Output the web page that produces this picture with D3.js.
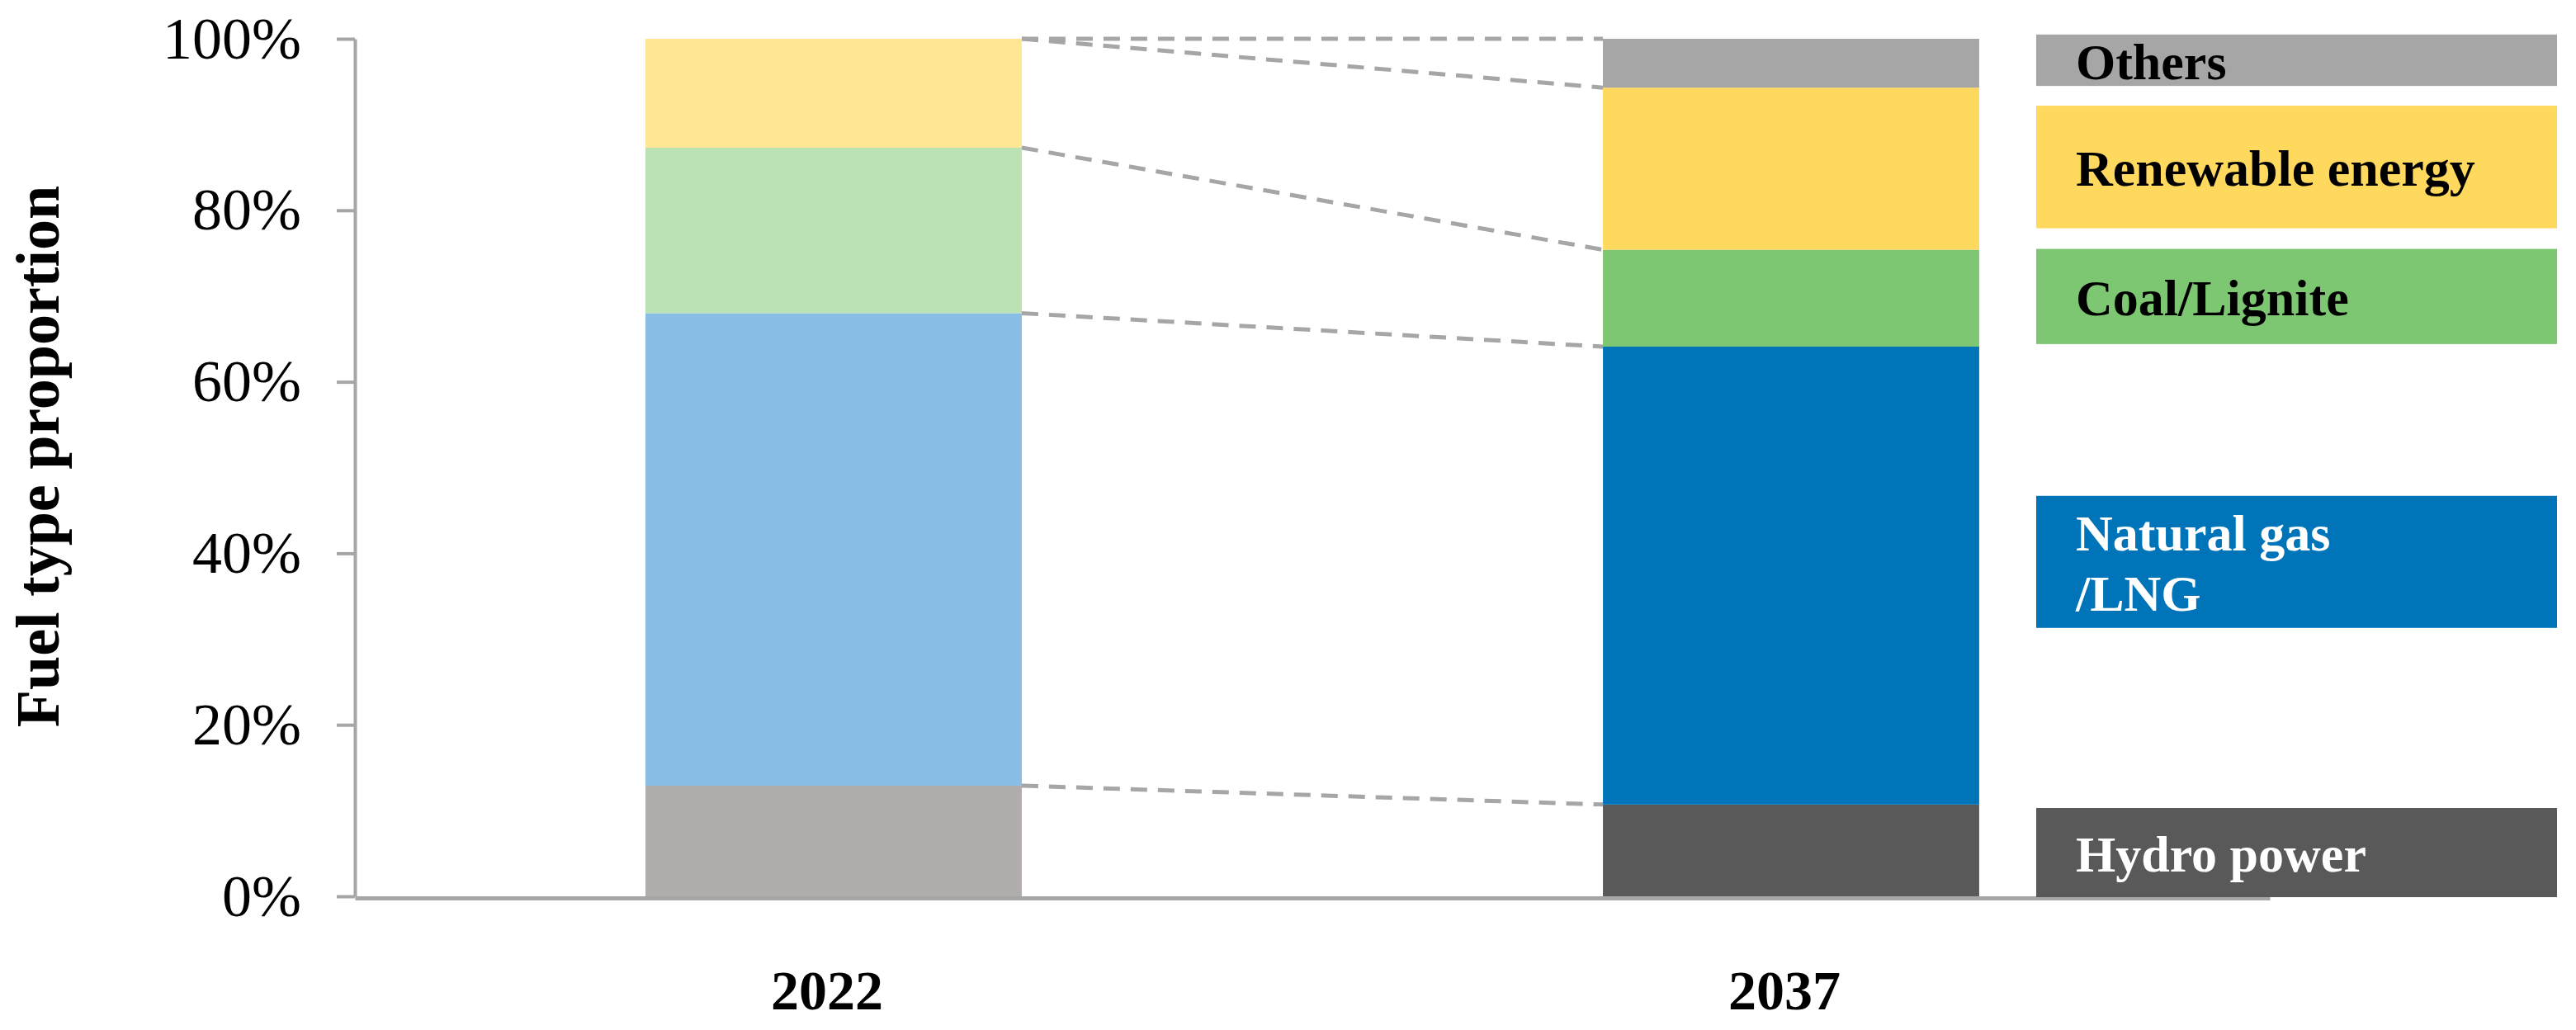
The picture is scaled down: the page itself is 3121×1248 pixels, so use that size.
<!DOCTYPE html>
<html>
<head>
<meta charset="utf-8">
<script src="https://cdn.jsdelivr.net/npm/d3@7"></script>
<style>
    html, body { margin: 0; padding: 0; background: #fff; }
    text { font-family: "Liberation Serif", "Times New Roman", serif; }
</style>
</head>
<body>
<div id="chart"></div>
<script>
// data (percent of total)
var years = ["2022", "2037"];
var fuels = ["Hydro power", "Natural gas /LNG", "Coal/Lignite", "Renewable energy", "Others"];
var hydro = [12.9, 10.7];
var gas = [55.1, 53.4];
var coal = [19.3, 11.3];
var renewable = [12.7, 18.9];
var others = [0, 5.7];
var yTicks = [0, 20, 40, 60, 80, 100];

// colours per year (2022 is the pale version)
var colors2022 = ["#b0adac", "#88bde6", "#bbe2b3", "#fee695", "#d9d9d9"];
var colors2037 = ["#595959", "#0074b9", "#7ec772", "#ffd95e", "#a6a6a6"];

// legend boxes on the right, spans given in percent of the axis
var legendSpans = [[-0.1, 10.3], [31.3, 46.7], [64.4, 75.5], [77.9, 92.2], [94.5, 100.5]];
var legendLines = [["Hydro power"], ["Natural gas", "/LNG"], ["Coal/Lignite"], ["Renewable energy"], ["Others"]];
var legendText = ["#fff", "#fff", "#000", "#000", "#000"];

function init() {
    var W = 3121, H = 1248;
    var left = 430, right = 2750, top = 47, bottom = 1086;

    var svg = d3.select("#chart")
        .append("svg")
        .attr("width", W)
        .attr("height", H);

    var rows = years.map(function(y, i) {
        return {
            year: y,
            "Hydro power": hydro[i],
            "Natural gas /LNG": gas[i],
            "Coal/Lignite": coal[i],
            "Renewable energy": renewable[i],
            "Others": others[i]
        };
    });

    var series = d3.stack().keys(fuels)(rows);

    var x = d3.scaleBand()
        .domain(years)
        .range([left, right])
        .paddingInner(0.607)
        .paddingOuter(0.3035);

    var y = d3.scaleLinear()
        .domain([0, 100])
        .range([bottom, top]);

    // y axis
    var yAxis = svg.append("g")
        .attr("transform", "translate(" + left + ",0)")
        .call(d3.axisLeft(y)
            .tickValues(yTicks)
            .tickFormat(function(d) { return d + "%"; })
            .tickSize(22)
            .tickSizeOuter(0)
            .tickPadding(43));
    yAxis.select(".domain").attr("stroke", "#a6a6a6").attr("stroke-width", 4);
    yAxis.selectAll(".tick line").attr("stroke", "#a6a6a6").attr("stroke-width", 4);
    yAxis.selectAll(".tick text")
        .attr("fill", "#000")
        .style("font-size", "72px");

    // x axis
    var xAxis = svg.append("g")
        .attr("transform", "translate(0," + (bottom + 2) + ")")
        .call(d3.axisBottom(x).tickSize(0).tickSizeOuter(0).tickPadding(87));
    xAxis.select(".domain").attr("stroke", "#a6a6a6").attr("stroke-width", 5);
    xAxis.selectAll(".tick text")
        .attr("fill", "#000")
        .attr("dx", -8)
        .style("font-size", "68px")
        .style("font-weight", "bold");

    // axis title
    svg.append("text")
        .attr("transform", "translate(71," + 553 + ") rotate(-90)")
        .attr("text-anchor", "middle")
        .style("font-size", "74px")
        .style("font-weight", "bold")
        .text("Fuel type proportion");

    // dashed connectors between the bars
    svg.append("g")
        .selectAll("line")
        .data(series)
        .enter()
        .append("line")
        .attr("x1", x("2022") + x.bandwidth())
        .attr("x2", x("2037"))
        .attr("y1", function(d) { return y(d[0][1]); })
        .attr("y2", function(d) { return y(d[1][1]); })
        .attr("stroke", "#a6a6a6")
        .attr("stroke-width", 5)
        .attr("stroke-dasharray", "20,13");

    // bars
    svg.append("g")
        .selectAll("g")
        .data(series)
        .enter()
        .append("g")
        .selectAll("rect")
        .data(function(d, k) {
            return d.map(function(p, i) { return {p: p, k: k, i: i}; });
        })
        .enter()
        .append("rect")
        .attr("x", function(d) { return x(d.p.data.year); })
        .attr("y", function(d) { return y(d.p[1]); })
        .attr("height", function(d) { return y(d.p[0]) - y(d.p[1]); })
        .attr("width", x.bandwidth())
        .attr("fill", function(d) { return d.i === 0 ? colors2022[d.k] : colors2037[d.k]; });

    // legend
    var lx = 2467, lw = 631;
    var leg = svg.append("g")
        .selectAll("g")
        .data(fuels)
        .enter()
        .append("g");

    leg.append("rect")
        .attr("x", lx)
        .attr("width", lw)
        .attr("y", function(d, i) { return y(legendSpans[i][1]); })
        .attr("height", function(d, i) { return y(legendSpans[i][0]) - y(legendSpans[i][1]); })
        .attr("fill", function(d, i) { return colors2037[i]; });

    leg.each(function(d, i) {
        var mid = (y(legendSpans[i][0]) + y(legendSpans[i][1])) / 2;
        var lines = legendLines[i];
        d3.select(this).selectAll("text")
            .data(lines)
            .enter()
            .append("text")
            .attr("x", 2515)
            .attr("y", function(t, j) { return mid + 23 + (j - (lines.length - 1) / 2) * 73; })
            .attr("fill", legendText[i])
            .style("font-size", "62px")
            .style("font-weight", "bold")
            .text(function(t) { return t; });
    });
}

window.onload = init;
</script>
</body>
</html>
